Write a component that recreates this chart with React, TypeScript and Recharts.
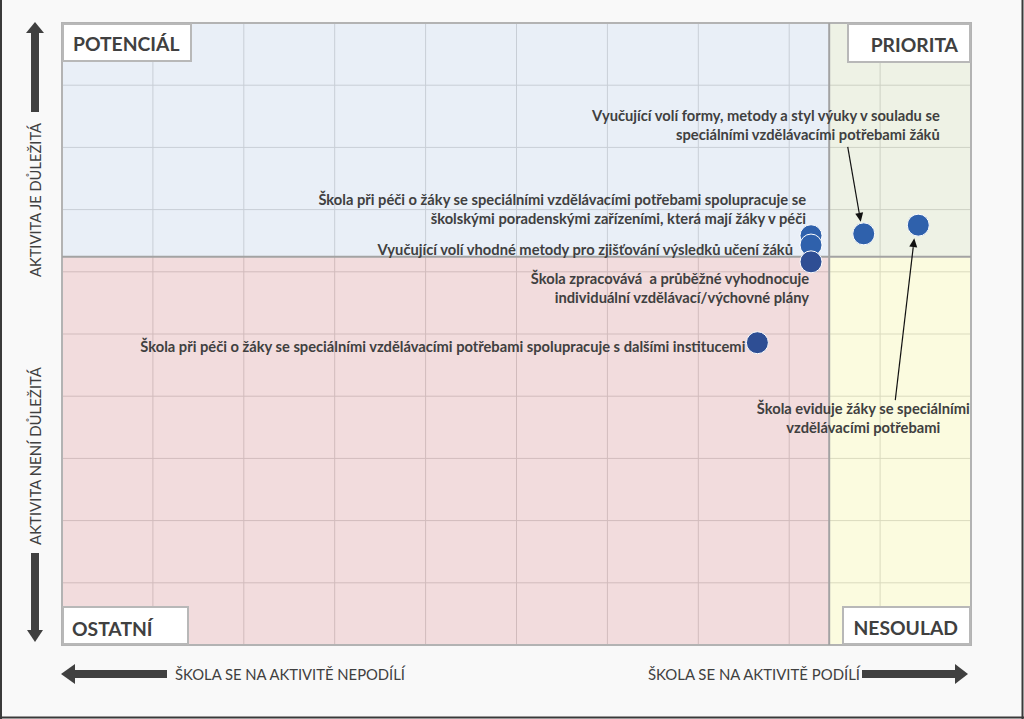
import React from 'react';
import {
  ScatterChart,
  Scatter,
  XAxis,
  YAxis,
  CartesianGrid,
  ReferenceArea,
  ReferenceLine,
  ReferenceDot,
} from 'recharts';

// ---------- DATA ----------
const activities: string[] = [
  'Škola při péči o žáky se speciálními vzdělávacími potřebami spolupracuje se\nškolskými poradenskými zařízeními, která mají žáky v péči',
  'Vyučující volí vhodné metody pro zjišťování výsledků učení žáků',
  'Škola zpracovává  a průběžné vyhodnocuje\nindividuální vzdělávací/výchovné plány',
  'Škola při péči o žáky se speciálními vzdělávacími potřebami spolupracuje s dalšími institucemi',
  'Vyučující volí formy, metody a styl výuky v souladu se\nspeciálními vzdělávacími potřebami žáků',
  'Škola eviduje žáky se speciálními\nvzdělávacími potřebami',
];
const participation: number[] = [82.4, 82.4, 82.4, 76.5, 88.2, 94.2];
const importance: number[] = [65.8, 64.3, 61.6, 48.6, 66.1, 67.5];

const xTicks: number[] = [0, 10, 20, 30, 40, 50, 60, 70, 80, 90, 100];
const yTicks: number[] = [0, 10, 20, 30, 40, 50, 60, 70, 80, 90, 100];
const xThreshold = 84.4;
const yThreshold = 62.4;

const quadrantNames: string[] = ['POTENCIÁL', 'PRIORITA', 'OSTATNÍ', 'NESOULAD'];
const axisTexts: string[] = [
  'AKTIVITA JE DŮLEŽITÁ',
  'AKTIVITA NENÍ DŮLEŽITÁ',
  'ŠKOLA SE NA AKTIVITĚ NEPODÍLÍ',
  'ŠKOLA SE NA AKTIVITĚ PODÍLÍ',
];

// ---------- STYLE / LAYOUT ----------
const W = 1024;
const H = 719;
const TEXT = '#404040';
const FONT = 'Lato, "Open Sans", sans-serif';
const dotColors = ['#2f61ac', '#2f61ac', '#2e4e94', '#2e4e94', '#2f61ac', '#2f61ac'];

type LabelLayout = {
  anchor: 'end' | 'middle';
  dx: number;
  dy: number;
  arrow?: [number, number, number, number];
};
const labelLayouts: LabelLayout[] = [
  { anchor: 'end', dx: -5, dy: -37 },
  { anchor: 'end', dx: -18, dy: 4 },
  { anchor: 'end', dx: -2, dy: 16 },
  { anchor: 'end', dx: -12, dy: 3 },
  { anchor: 'end', dx: 76, dy: -119, arrow: [-16, -87, -3, -12] },
  { anchor: 'middle', dx: -55, dy: 183, arrow: [-23, 175, -4, 13] },
];

const points = activities.map((name, i) => ({
  name,
  x: participation[i],
  y: importance[i],
  idx: i,
}));

const Arrow = ({ x1, y1, x2, y2 }: { x1: number; y1: number; x2: number; y2: number }) => {
  const ang = Math.atan2(y2 - y1, x2 - x1);
  const len = 9;
  const half = 4;
  const bx = x2 - len * Math.cos(ang);
  const by = y2 - len * Math.sin(ang);
  const px = -Math.sin(ang) * half;
  const py = Math.cos(ang) * half;
  return (
    <g>
      <line x1={x1} y1={y1} x2={bx} y2={by} stroke="#111" strokeWidth={1.2} />
      <polygon points={`${x2},${y2} ${bx + px},${by + py} ${bx - px},${by - py}`} fill="#111" />
    </g>
  );
};

const makeAnnotation = (i: number) => (props: any) => {
  const { cx, cy } = props;
  if (cx == null || cy == null) return <g />;
  const lay = labelLayouts[i];
  const lines = activities[i].split('\n');
  return (
    <g>
      {lines.map((ln, k) => (
        <text
          key={k}
          x={cx + lay.dx}
          y={cy + lay.dy + k * 19}
          textAnchor={lay.anchor}
          dominantBaseline="central"
          fontFamily={FONT}
          fontWeight={700}
          fontSize={14.7}
          fill={TEXT}
          style={{ whiteSpace: 'pre' }}
        >
          {ln}
        </text>
      ))}
      {lay.arrow && (
        <Arrow
          x1={cx + lay.arrow[0]}
          y1={cy + lay.arrow[1]}
          x2={cx + lay.arrow[2]}
          y2={cy + lay.arrow[3]}
        />
      )}
    </g>
  );
};

type QLayout = { bx: number; by: number; bw: number; bh: number; tx: number; ty: number; anchor: 'start' | 'end' };
const quadrantLayouts: QLayout[] = [
  { bx: 1, by: 1, bw: 128, bh: 37, tx: 11, ty: 20, anchor: 'start' },
  { bx: -123, by: 1, bw: 122, bh: 38, tx: -13, ty: 21, anchor: 'end' },
  { bx: 1, by: -38, bw: 125, bh: 37, tx: 10, ty: -17, anchor: 'start' },
  { bx: -128, by: -38, bw: 127, bh: 37, tx: -13, ty: -18, anchor: 'end' },
];
const quadrantCorners = [
  { x: xTicks[0], y: yTicks[yTicks.length - 1] },
  { x: xTicks[xTicks.length - 1], y: yTicks[yTicks.length - 1] },
  { x: xTicks[0], y: yTicks[0] },
  { x: xTicks[xTicks.length - 1], y: yTicks[0] },
];

const makeQuadrantLabel = (i: number) => (props: any) => {
  const { cx, cy } = props;
  if (cx == null || cy == null) return <g />;
  const l = quadrantLayouts[i];
  return (
    <g>
      <rect x={cx + l.bx} y={cy + l.by} width={l.bw} height={l.bh} fill="#ffffff" stroke="#b8b8b8" strokeWidth={2} />
      <text
        x={cx + l.tx}
        y={cy + l.ty}
        textAnchor={l.anchor}
        dominantBaseline="central"
        fontFamily={FONT}
        fontWeight={700}
        fontSize={19.3}
        fill={TEXT}
      >
        {quadrantNames[i]}
      </text>
    </g>
  );
};

const DotShape = (props: any) => {
  const { cx, cy, payload } = props;
  const i = payload?.idx ?? 0;
  return <circle cx={cx} cy={cy} r={11} fill={dotColors[i]} stroke="#ffffff" strokeWidth={1} />;
};

const Overlay = () => (
  <svg
    width={W}
    height={H}
    style={{ position: 'absolute', left: 0, top: 0, pointerEvents: 'none' }}
  >
    {/* frame */}
    <line x1={1} y1={0} x2={1} y2={H} stroke="#3a3a3a" strokeWidth={2} />
    <line x1={W - 1.5} y1={0} x2={W - 1.5} y2={H} stroke="#3a3a3a" strokeWidth={2} />
    <line x1={0} y1={H - 1.5} x2={W} y2={H - 1.5} stroke="#3a3a3a" strokeWidth={2} />

    {/* up arrow */}
    <rect x={31} y={31} width={8} height={81} fill="#404040" />
    <polygon points="35,22 26,33 44,33" fill="#404040" />
    <text
      transform="translate(41,200) rotate(-90)"
      textAnchor="middle"
      fontFamily={FONT}
      fontSize={15}
      fill={TEXT}
      textLength={154}
      lengthAdjust="spacingAndGlyphs"
    >
      {axisTexts[0]}
    </text>
    <text
      transform="translate(41,456) rotate(-90)"
      textAnchor="middle"
      fontFamily={FONT}
      fontSize={15}
      fill={TEXT}
      textLength={178}
      lengthAdjust="spacingAndGlyphs"
    >
      {axisTexts[1]}
    </text>
    {/* down arrow */}
    <rect x={31} y={553} width={8} height={78} fill="#404040" />
    <polygon points="35,642 27,630 43,630" fill="#404040" />

    {/* left arrow */}
    <rect x={74} y={670} width={93} height={8} fill="#404040" />
    <polygon points="61,674 75,664 75,684" fill="#404040" />
    <text
      x={175}
      y={674}
      dominantBaseline="central"
      fontFamily={FONT}
      fontSize={15}
      fill={TEXT}
      textLength={230}
      lengthAdjust="spacingAndGlyphs"
    >
      {axisTexts[2]}
    </text>
    <text
      x={648}
      y={674}
      dominantBaseline="central"
      fontFamily={FONT}
      fontSize={15}
      fill={TEXT}
      textLength={212}
      lengthAdjust="spacingAndGlyphs"
    >
      {axisTexts[3]}
    </text>
    {/* right arrow */}
    <rect x={862} y={670} width={94} height={8} fill="#404040" />
    <polygon points="968,674 955,664 955,684" fill="#404040" />
  </svg>
);

export default function App() {
  return (
    <div
      style={{
        position: 'absolute',
        left: 0,
        top: 0,
        width: W,
        height: H,
        background: '#f9f9f9',
        overflow: 'hidden',
      }}
    >
      <div style={{ position: 'absolute', left: 0, top: 0 }}>
        <ScatterChart width={W} height={H} margin={{ top: 23, right: 53, bottom: 74, left: 62 }}>
          <CartesianGrid stroke="#bdbdbd" strokeWidth={1} fill="#ffffff" />
          <XAxis type="number" dataKey="x" domain={[0, 100]} ticks={xTicks} hide />
          <YAxis type="number" dataKey="y" domain={[0, 100]} ticks={yTicks} hide />

          <ReferenceArea x1={0} x2={xThreshold} y1={yThreshold} y2={100} fill="#d3dfef" fillOpacity={0.5} stroke="none" />
          <ReferenceArea x1={xThreshold} x2={100} y1={yThreshold} y2={100} fill="#dde5cb" fillOpacity={0.5} stroke="none" />
          <ReferenceArea x1={0} x2={xThreshold} y1={0} y2={yThreshold} fill="#e5b9bb" fillOpacity={0.5} stroke="none" />
          <ReferenceArea x1={xThreshold} x2={100} y1={0} y2={yThreshold} fill="#f7f7bf" fillOpacity={0.5} stroke="none" />

          <ReferenceLine x={xThreshold} stroke="#a3a3a3" strokeWidth={2} />
          <ReferenceLine y={yThreshold} stroke="#a3a3a3" strokeWidth={2} />
          <ReferenceArea x1={0} x2={100} y1={0} y2={100} fill="none" stroke="#b3b3b3" strokeWidth={2} />

          {quadrantCorners.map((c, i) => (
            <ReferenceDot key={`q${i}`} x={c.x} y={c.y} r={0} ifOverflow="visible" shape={makeQuadrantLabel(i)} />
          ))}

          {points.map((p, i) => (
            <ReferenceDot key={`a${i}`} x={p.x} y={p.y} r={0} ifOverflow="visible" shape={makeAnnotation(i)} />
          ))}

          <Scatter data={points} isAnimationActive={false} shape={DotShape} />
        </ScatterChart>
      </div>
      <Overlay />
    </div>
  );
}
